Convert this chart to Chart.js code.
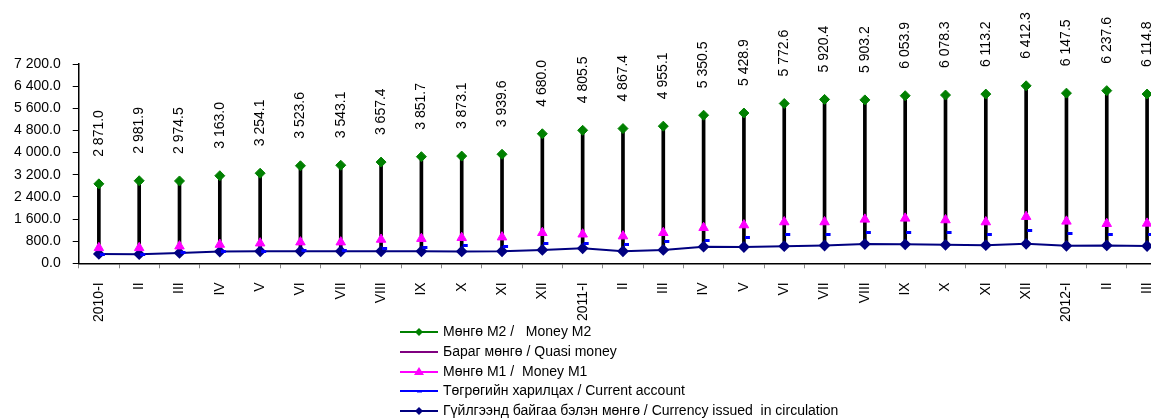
<!DOCTYPE html>
<html>
<head>
<meta charset="utf-8">
<script src="https://cdn.jsdelivr.net/npm/chart.js@4.4.1/dist/chart.umd.min.js"></script>
<style>
  html,body{margin:0;padding:0;background:#fff;overflow:hidden;}
  #wrap{position:relative;width:1178px;height:419px;}
  #legend{position:absolute;left:400px;top:322px;font-family:"Liberation Sans",Arial,sans-serif;font-size:14px;color:#000;}
  .row{position:relative;height:19.8px;line-height:19.8px;white-space:pre;padding-left:43px;}
  .row canvas{position:absolute;left:0;top:0;}
</style>
</head>
<body>
<div id="wrap">
  <canvas id="chart" width="1178" height="419"></canvas>
  <div id="legend"></div>
</div>
<script>
// ---- data ----
const labels=['2010-I','II','III','IV','V','VI','VII','VIII','IX','X','XI','XII',
  '2011-I','II','III','IV','V','VI','VII','VIII','IX','X','XI','XII',
  '2012-I','II','III'];
const moneyM2=[2871.0,2981.9,2974.5,3163.0,3254.1,3523.6,3543.1,3657.4,3851.7,3873.1,3939.6,4680.0,
  4805.5,4867.4,4955.1,5350.5,5428.9,5772.6,5920.4,5903.2,6053.9,6078.3,6113.2,6412.3,
  6147.5,6237.6,6114.8];
const quasiMoney=[];
const moneyM1=[558,558,618,679,727,764,764,861,890,925,945,1103,
  1050,982,1103,1285,1382,1491,1491,1588,1624,1564,1491,1685,
  1515,1430,1442];
const currentAccount=[330,330,380,430,440,470,480,533,582,642,618,730,
  715,679,788,840,940,1042,1030,1103,1115,1103,1030,1200,
  1067,1030,1030];
const currency=[338,330,375,425,436,436,436,436,436,430,436,485,
  540,436,485,600,590,618,642,695,685,667,654,703,
  630,645,625];
const yTicks=[0,800,1600,2400,3200,4000,4800,5600,6400,7200];

const legendItems=[
  {text:'Мөнгө M2 /   Money M2',color:'#008000',marker:'diamond'},
  {text:'Бараг мөнгө / Quasi money',color:'#800080',marker:null},
  {text:'Мөнгө M1 /  Money M1',color:'#FF00FF',marker:'triangle'},
  {text:'Төгрөгийн харилцах / Current account',color:'#0000FF',marker:'dash'},
  {text:'Гүйлгээнд байгаа бэлэн мөнгө / Currency issued  in circulation',color:'#000080',marker:'diamond'}
];

function fmt(v){
  const s=Number(v).toFixed(1);
  const [i,d]=s.split('.');
  return i.replace(/\B(?=(\d{3})+(?!\d))/g,' ')+'.'+d;
}

// dash marker sitting just right of the high-low line
const dash=document.createElement('canvas');
dash.width=14;dash.height=3;
(function(){const c=dash.getContext('2d');c.fillStyle='#0000FF';c.fillRect(8,0,5,3);})();

const hilo=labels.map((_,i)=>[currency[i],moneyM2[i]]);

const m2Labels={
  id:'m2Labels',
  afterDatasetsDraw(chart){
    const meta=chart.getDatasetMeta(0);
    const ctx=chart.ctx;
    ctx.save();
    ctx.font='14px "Liberation Sans", Arial, sans-serif';
    ctx.fillStyle='#000';
    ctx.textAlign='left';
    ctx.textBaseline='middle';
    meta.data.forEach((p,i)=>{
      ctx.save();
      ctx.translate(p.x,p.y-27);
      ctx.rotate(-Math.PI/2);
      ctx.fillText(fmt(moneyM2[i]),0,0);
      ctx.restore();
    });
    ctx.restore();
  }
};

Chart.defaults.font.family='"Liberation Sans", Arial, sans-serif';
Chart.defaults.font.size=14;
Chart.defaults.color='#000';

new Chart(document.getElementById('chart'),{
  type:'bar',
  data:{
    labels,
    datasets:[
      {type:'line',label:'M2',data:moneyM2,showLine:false,pointStyle:'rectRot',pointRadius:5,
        pointBackgroundColor:'#008000',pointBorderColor:'#008000',borderColor:'#008000',order:1},
      {type:'line',label:'Quasi',data:quasiMoney,showLine:false,pointRadius:0,borderColor:'#800080',order:2},
      {type:'line',label:'M1',data:moneyM1,showLine:false,pointStyle:'triangle',pointRadius:5.5,
        pointBackgroundColor:'#FF00FF',pointBorderColor:'#FF00FF',borderColor:'#FF00FF',order:3},
      {type:'line',label:'Current',data:currentAccount,showLine:false,pointStyle:dash,pointRadius:5,
        borderColor:'#0000FF',order:4},
      {type:'line',label:'Currency',data:currency,borderColor:'#000080',borderWidth:2,pointStyle:'rectRot',
        pointRadius:4.5,pointBackgroundColor:'#000080',pointBorderColor:'#000080',order:5},
      {label:'hilo',data:hilo,backgroundColor:'#000',barThickness:3,borderSkipped:false,order:10}
    ]
  },
  options:{
    responsive:false,
    animation:false,
    layout:{padding:{left:2,right:0,top:64,bottom:83}},
    plugins:{legend:{display:false},tooltip:{enabled:false}},
    scales:{
      x:{
        offset:true,
        grid:{display:true,drawOnChartArea:false,offset:true,tickLength:5,color:'#888'},
        border:{color:'#000',width:1.5},
        ticks:{maxRotation:90,minRotation:90,padding:14,autoSkip:false,color:'#000'}
      },
      y:{
        min:0,max:7200,
        afterBuildTicks(axis){axis.ticks=yTicks.map(v=>({value:v}));},
        grid:{display:true,drawOnChartArea:false,tickLength:6,color:'#000'},
        border:{color:'#000',width:1.5},
        ticks:{padding:12,callback:v=>fmt(v),color:'#000'}
      }
    }
  },
  plugins:[m2Labels]
});

// ---- legend ----
const lg=document.getElementById('legend');
legendItems.forEach(it=>{
  const row=document.createElement('div');
  row.className='row';
  const c=document.createElement('canvas');
  c.width=38;c.height=20;
  const x=c.getContext('2d');
  x.strokeStyle=it.color;x.lineWidth=2;
  x.beginPath();x.moveTo(0,10);x.lineTo(38,10);x.stroke();
  x.fillStyle=it.color;
  if(it.marker==='diamond'){x.beginPath();x.moveTo(19,6);x.lineTo(23,10);x.lineTo(19,14);x.lineTo(15,10);x.closePath();x.fill();}
  if(it.marker==='triangle'){x.beginPath();x.moveTo(19,5);x.lineTo(24,13);x.lineTo(14,13);x.closePath();x.fill();}
  if(it.marker==='dash'){x.fillRect(17,9,5,2.5);}
  row.appendChild(c);
  row.appendChild(document.createTextNode(it.text));
  lg.appendChild(row);
});
</script>
</body>
</html>
